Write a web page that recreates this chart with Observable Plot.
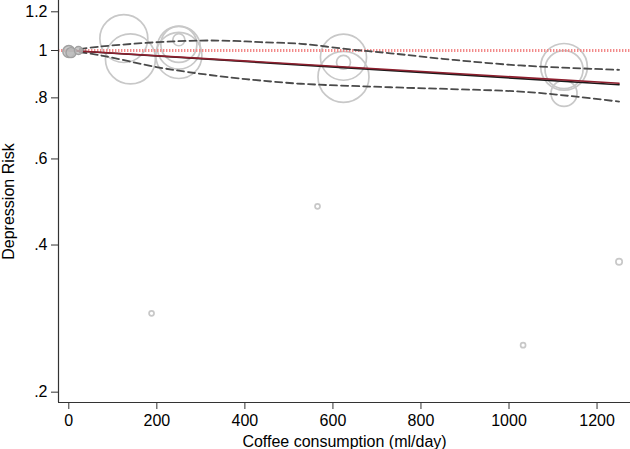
<!DOCTYPE html>
<html>
<head>
<meta charset="utf-8">
<script src="https://cdn.jsdelivr.net/npm/d3@7"></script>
<script src="https://cdn.jsdelivr.net/npm/@observablehq/plot@0.6"></script>
<style>
  html, body { margin: 0; padding: 0; background: #fff; }
  #chart svg { display: block; }
</style>
</head>
<body>
<div id="chart"></div>
<script>
// Axis ticks
const xTicks = [0, 200, 400, 600, 800, 1000, 1200];
const yTicks = [0.2, 0.4, 0.6, 0.8, 1, 1.2];
const yTickLabels = [".2", ".4", ".6", ".8", "1", "1.2"];

// Study-level relative risks (bubble = study weight)
const studyDose   = [125, 140, 250, 250, 250, 250, 624, 624, 624, 1125, 1125, 1125, 188, 565, 1032, 1250];
const studyRR     = [1.058, 0.961, 1.014, 0.977, 1.029, 1.052, 0.969, 0.883, 0.946, 0.926, 0.914, 0.817, 0.290, 0.480, 0.2496, 0.3696];
const studyWeight = [92, 100, 74, 85, 52, 5.8, 85, 104, 7.8, 87, 58, 27, 1, 1, 1, 1.6];

// Reference category points
const refDose   = [0, 5, 22];
const refRR     = [0.995, 0.99, 1.0];
const refWeight = [5.8, 4, 2.6];

// Pooled fits
const fitDose  = [0, 1250];
const fitLinear = [1, 0.851];
const fitSpline = [1, 0.857];

// Confidence band (spline)
const upperDose = [0, 73, 202, 300, 375, 436, 527, 640, 731, 867, 1026, 1250];
const upperRR   = [1, 1.019, 1.040, 1.048, 1.046, 1.040, 1.032, 1.005, 0.987, 0.958, 0.932, 0.913];
const lowerDose = [0, 73, 202, 300, 375, 436, 527, 731, 867, 1026, 1140, 1250];
const lowerRR   = [1, 0.977, 0.924, 0.896, 0.879, 0.868, 0.855, 0.841, 0.834, 0.824, 0.807, 0.786];

const xDomain = [-23.4, 1276];
const yDomain = [0.1905, 1.2656];

const studies = studyDose.map((d, i) => ({dose: d, rr: studyRR[i], w: studyWeight[i]}));
const refs = refDose.map((d, i) => ({dose: d, rr: refRR[i], w: refWeight[i]}));
const linear = fitDose.map((d, i) => ({dose: d, rr: fitLinear[i]}));
const spline = fitDose.map((d, i) => ({dose: d, rr: fitSpline[i]}));
const upper = upperDose.map((d, i) => ({dose: d, rr: upperRR[i]}));
const lower = lowerDose.map((d, i) => ({dose: d, rr: lowerRR[i]}));

const chart = Plot.plot({
  width: 630,
  height: 449,
  marginLeft: 58,
  marginRight: 0,
  marginTop: 0,
  marginBottom: 47,
  style: {fontFamily: "'Liberation Sans', Arial, sans-serif", fontSize: "16px", color: "#000", background: "#fff"},
  x: {domain: xDomain},
  y: {type: "log", domain: yDomain},
  r: {type: "sqrt", domain: [0, 100], range: [0, 25]},
  marks: [
    Plot.dot(studies, {x: "dose", y: "rr", r: "w", stroke: "#c8c8c8", strokeWidth: 1.7, fill: "none"}),
    Plot.ruleY([1], {stroke: "#f28a8a", strokeWidth: 3, strokeDasharray: "1.4,1.6"}),
    Plot.line(upper, {x: "dose", y: "rr", curve: "catmull-rom", stroke: "#4a4a4a", strokeWidth: 1.8, strokeDasharray: "7,4"}),
    Plot.line(lower, {x: "dose", y: "rr", curve: "catmull-rom", stroke: "#4a4a4a", strokeWidth: 1.8, strokeDasharray: "7,4"}),
    Plot.line(linear, {x: "dose", y: "rr", stroke: "#1a1a1a", strokeWidth: 1.7}),
    Plot.line(spline, {x: "dose", y: "rr", stroke: "#8e1f2e", strokeWidth: 1.6}),
    Plot.dot(refs, {x: "dose", y: "rr", r: "w", stroke: "#a0a0a0", strokeWidth: 1.4, fill: "#bdbdbd", fillOpacity: 0.8}),
    Plot.ruleX([xDomain[0]], {stroke: "#333", strokeWidth: 1.2}),
    Plot.ruleY([yDomain[0]], {stroke: "#333", strokeWidth: 1.2}),
    Plot.axisX({ticks: xTicks, tickSize: 7, tickPadding: 5, stroke: "#333", fill: "#000",
      tickFormat: d => String(d), label: "Coffee consumption (ml/day)", labelAnchor: "center", labelOffset: 44, labelArrow: "none"}),
    Plot.axisY({ticks: yTicks, tickSize: 7, tickPadding: 4, stroke: "#333", fill: "#000",
      tickFormat: d => yTickLabels[yTicks.indexOf(d)], label: "Depression Risk", labelAnchor: "center", labelOffset: 56, labelArrow: "none"})
  ]
});
document.getElementById("chart").appendChild(chart);
</script>
</body>
</html>
